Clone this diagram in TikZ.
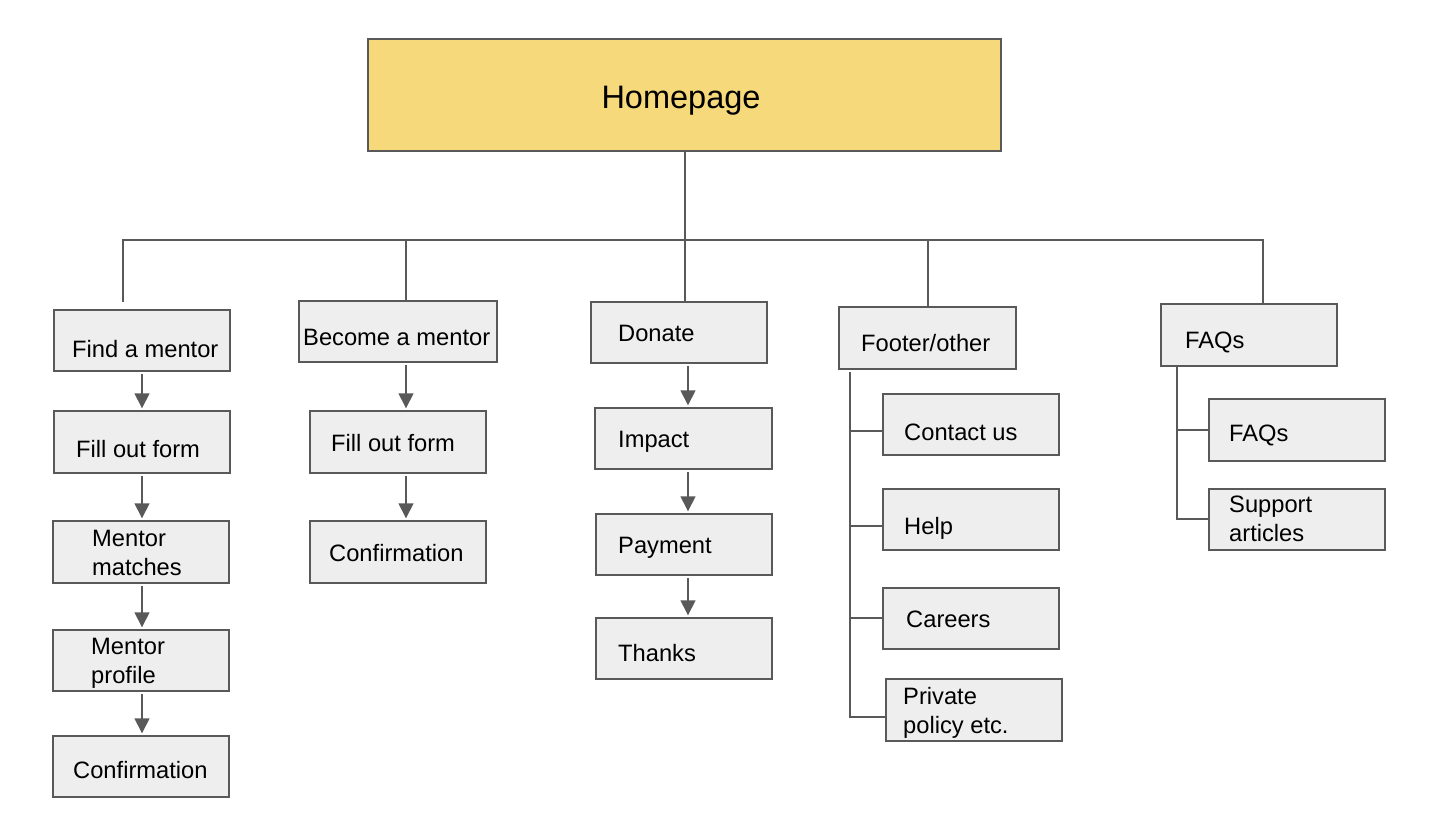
\documentclass[tikz,border=0pt]{standalone}
\usepackage{fontspec}
\setmainfont{Liberation Sans}
\usetikzlibrary{arrows.meta,fit}
\definecolor{lineC}{HTML}{595959}
\definecolor{boxC}{HTML}{EEEEEE}
\definecolor{homeC}{HTML}{F6D97A}
\begin{document}
\begin{tikzpicture}[x=1pt,y=-1pt,
  box/.style={draw=lineC, line width=1.4pt, fill=boxC, inner sep=0pt},
  homebox/.style={box, fill=homeC},
  txt/.style={font=\fontsize{23.7}{29}\selectfont, inner sep=0pt, anchor=base west, align=left},
  htxt/.style={font=\fontsize{32.5}{37}\selectfont, inner sep=0pt, anchor=base},
  link/.style={draw=lineC, line width=1.4pt},
  arr/.style={link, -{Triangle[width=15pt,length=15pt]}, shorten <=2pt, shorten >=2pt}]
\useasboundingbox (0,0) rectangle (1450,820);
% boxes
\node[homebox, fit={(368,39)(1001,151)}] (home) {};
\node[box, fit={(54,310)(230,371)}] (find) {};
\node[box, fit={(54,411)(230,473)}] (fill1) {};
\node[box, fit={(53,521)(229,583)}] (match) {};
\node[box, fit={(53,630)(229,691)}] (prof) {};
\node[box, fit={(53,736)(229,797)}] (conf1) {};
\node[box, fit={(299,301)(497,362)}] (become) {};
\node[box, fit={(310,411)(486,473)}] (fill2) {};
\node[box, fit={(310,521)(486,583)}] (conf2) {};
\node[box, fit={(591,302)(767,363)}] (donate) {};
\node[box, fit={(595,408)(772,469)}] (impact) {};
\node[box, fit={(596,514)(772,575)}] (pay) {};
\node[box, fit={(596,618)(772,679)}] (thanks) {};
\node[box, fit={(839,307)(1016,369)}] (footer) {};
\node[box, fit={(883,394)(1059,455)}] (contact) {};
\node[box, fit={(883,489)(1059,550)}] (help) {};
\node[box, fit={(883,588)(1059,649)}] (careers) {};
\node[box, fit={(886,679)(1062,741)}] (priv) {};
\node[box, fit={(1161,304)(1337,366)}] (faqs) {};
\node[box, fit={(1209,399)(1385,461)}] (faqc) {};
\node[box, fit={(1209,489)(1385,550)}] (supp) {};
% texts (two-line texts are anchored at the baseline of their last line)
\node[htxt] (thome) at (681,108) {Homepage};
\node[txt] (tfind) at (72,357) {Find a mentor};
\node[txt] (tfill1) at (76,457) {Fill out form};
\node[txt] (tmatch) at (92,575) {Mentor\\matches};
\node[txt] (tprof) at (91,683) {Mentor\\profile};
\node[txt] (tconf1) at (73,778) {Confirmation};
\node[txt] (tbecome) at (303,345) {Become a mentor};
\node[txt] (tfill2) at (331,451) {Fill out form};
\node[txt] (tconf2) at (329,561) {Confirmation};
\node[txt] (tdonate) at (618,341) {Donate};
\node[txt] (timpact) at (618,447) {Impact};
\node[txt] (tpay) at (618,553) {Payment};
\node[txt] (tthanks) at (618,661) {Thanks};
\node[txt] (tfooter) at (861,351) {Footer/other};
\node[txt] (tcontact) at (904,440) {Contact us};
\node[txt] (thelp) at (904,534) {Help};
\node[txt] (tcareers) at (906,627) {Careers};
\node[txt] (tpriv) at (903,733) {Private\\policy etc.};
\node[txt] (tfaqs) at (1185,348) {FAQs};
\node[txt] (tfaqc) at (1229,441) {FAQs};
\node[txt] (tsupp) at (1229,541) {Support\\articles};
% tree connectors
\coordinate (barL) at (122,240);
\coordinate (barR) at (1264,240);
\coordinate (dropA) at (123,302);
\coordinate (colH) at (685,0);
\coordinate (colA) at (142,0);
\coordinate (colB) at (406,240);
\coordinate (colF) at (928,240);
\coordinate (colQ) at (1263,240);
\coordinate (colD) at (688,0);
\draw[link] (home.south -| colH) -- (donate.north -| colH);
\draw[link] (barL) -- (barR);
\draw[link] (dropA |- barL) -- (dropA);
\draw[link] (colB) -- (become.north -| colB);
\draw[link] (colF) -- (footer.north -| colF);
\draw[link] (colQ) -- (faqs.north -| colQ);
% arrows
\draw[arr] (find.south -| colA) -- (fill1.north -| colA);
\draw[arr] (fill1.south -| colA) -- (match.north -| colA);
\draw[arr] (match.south -| colA) -- (prof.north -| colA);
\draw[arr] (prof.south -| colA) -- (conf1.north -| colA);
\draw[arr] (become.south -| colB) -- (fill2.north -| colB);
\draw[arr] (fill2.south -| colB) -- (conf2.north -| colB);
\draw[arr] (donate.south -| colD) -- (impact.north -| colD);
\draw[arr] (impact.south -| colD) -- (pay.north -| colD);
\draw[arr] (pay.south -| colD) -- (thanks.north -| colD);
% footer spine
\coordinate (fs) at (850,372);
\coordinate (fe) at (850,717);
\coordinate (fb1) at (850,431);
\coordinate (fb2) at (850,526);
\coordinate (fb3) at (850,618);
\draw[link] (fs) -- (fe) -- (fe -| priv.west);
\draw[link] (fb1) -- (fb1 -| contact.west);
\draw[link] (fb2) -- (fb2 -| help.west);
\draw[link] (fb3) -- (fb3 -| careers.west);
% faq spine
\coordinate (qs) at (1177,367);
\coordinate (qe) at (1177,519);
\coordinate (qb1) at (1177,430);
\draw[link] (qs) -- (qe) -- (qe -| supp.west);
\draw[link] (qb1) -- (qb1 -| faqc.west);
\end{tikzpicture}
\end{document}
